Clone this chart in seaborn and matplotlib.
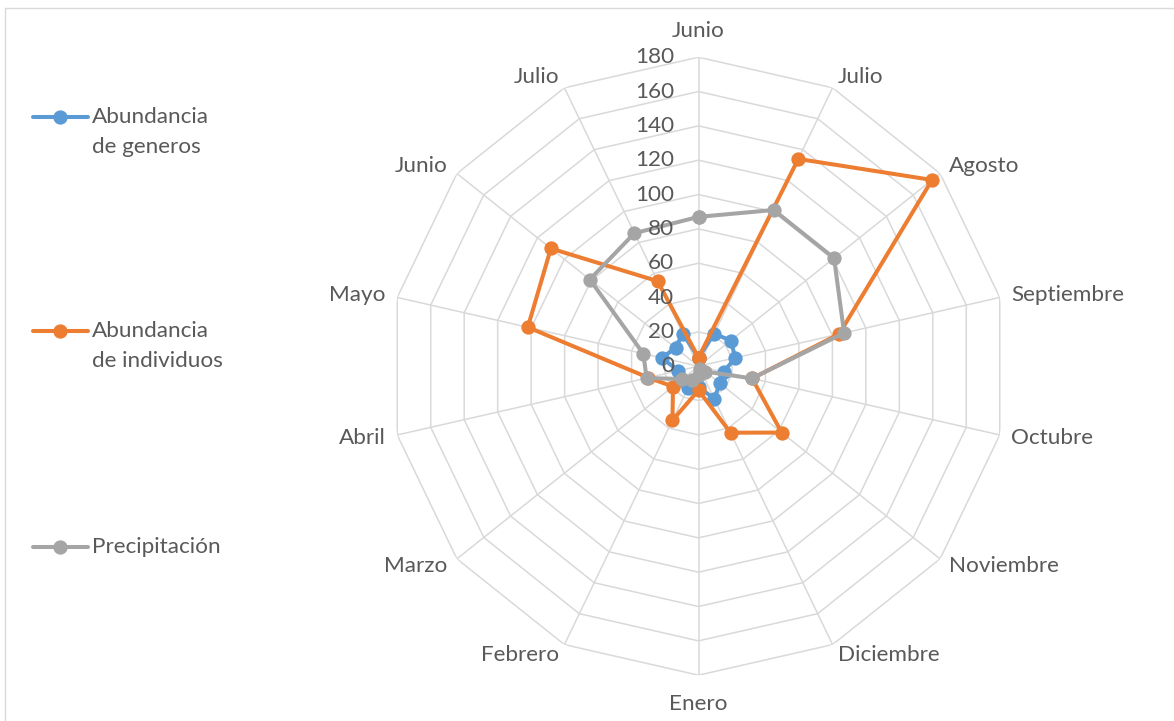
import numpy as np
import pandas as pd
import matplotlib
matplotlib.use("Agg")
import matplotlib.pyplot as plt
from matplotlib.lines import Line2D
from matplotlib.patches import Rectangle
import seaborn as sns

# ---------------- data ----------------
categories = ["Junio", "Julio", "Agosto", "Septiembre", "Octubre", "Noviembre",
              "Diciembre", "Enero", "Febrero", "Marzo", "Abril", "Mayo",
              "Junio", "Julio"]
abundancia_generos = [5, 21, 24, 22, 15, 16, 21, 12, 14, 13, 12, 22, 17, 21]
abundancia_individuos = [5, 134, 174, 84, 32, 62, 43, 14, 35, 19, 30, 102, 110, 55]
precipitacion = [87, 101, 101, 87, 32, 5, 2, 5, 9, 12, 31, 33, 81, 86]
series_names = ["Abundancia\nde generos", "Abundancia\nde individuos", "Precipitación"]
radial_ticks = [0, 20, 40, 60, 80, 100, 120, 140, 160, 180]

colors = ["#5B9BD5", "#ED7D31", "#A5A5A5"]
grid_color = "#D9D9D9"
text_color = "#595959"

sns.set_style("white")
plt.rcParams["font.family"] = ["Lato", "DejaVu Sans"]

W, H = 1174, 721
fig = plt.figure(figsize=(W / 100, H / 100), dpi=100)

# chart border
fig.add_artist(Rectangle((5 / W, -0.1), 1.2, (H - 8) / H + 0.1,
                         transform=fig.transFigure, fill=False,
                         edgecolor=grid_color, lw=1.0))

cx, cy, R = 698.5, 366.2, 309.0
ax = fig.add_axes([(cx - R) / W, (H - cy - R) / H, 2 * R / W, 2 * R / H],
                  projection="polar")
ax.set_theta_offset(np.pi / 2)
ax.set_theta_direction(-1)
ax.grid(False)
ax.spines["polar"].set_visible(False)
ax.set_xticks([])
ax.set_yticks([])
ax.patch.set_alpha(0)

n = len(categories)
theta = np.arange(n) * 2 * np.pi / n
theta_closed = np.append(theta, 2 * np.pi)

# polygon grid
for v in radial_ticks[1:]:
    ax.plot(theta_closed, [v] * (n + 1), color=grid_color, lw=1.1, zorder=0)
for t in theta:
    ax.plot([t, t], [0, radial_ticks[-1]], color=grid_color, lw=1.1, zorder=0)

# data
rows = []
for name, vals in zip(series_names,
                      [abundancia_generos, abundancia_individuos, precipitacion]):
    closed = list(vals) + [vals[0]]
    for t, v in zip(theta_closed, closed):
        rows.append({"theta": t, "value": v, "serie": name})
df = pd.DataFrame(rows)

lw, ms = 2.9, 10.3
sns.lineplot(data=df, x="theta", y="value", hue="serie", hue_order=series_names,
             palette=colors, marker="o", markersize=ms, markeredgewidth=0,
             linewidth=lw, sort=False, estimator=None, legend=False, ax=ax)
ax.set_xlabel("")
ax.set_ylabel("")
ax.set_ylim(0, radial_ticks[-1])
ax.set_xticks([])
ax.set_yticks([])

fs = 16.2
# radial tick labels
for v in radial_ticks:
    ax.annotate(str(v), xy=(0, v), xytext=(-17.5, 0), textcoords="offset points",
                ha="right", va="center", fontsize=fs, color=text_color,
                annotation_clip=False)

# category labels
gap = 8.6
for t, lab in zip(theta, categories):
    s, c = np.sin(t), np.cos(t)
    if abs(s) < 0.05:
        ha = "center"
        va = "bottom" if c > 0 else "top"
        off = (0, 11.5 if c > 0 else -13.5)
    else:
        ha = "left" if s > 0 else "right"
        va = "center"
        off = (gap * s, gap * c)
    ax.annotate(lab, xy=(t, radial_ticks[-1]), xytext=off, textcoords="offset points",
                ha=ha, va=va, fontsize=fs, color=text_color, annotation_clip=False)

# legend (manual, Excel-like spacing)
leg_y = [117, 331, 547]
for name, col, y in zip(series_names, colors, leg_y):
    yf = (H - y) / H
    fig.add_artist(Line2D([33 / W, 88 / W], [yf, yf], color=col, lw=lw,
                          solid_capstyle="round", transform=fig.transFigure))
    fig.add_artist(Line2D([60 / W], [yf], color=col, marker="o", markersize=ms,
                          markeredgewidth=0, transform=fig.transFigure))
    for i, line in enumerate(name.split("\n")):
        fig.text(92 / W, (H - y - 30 * i) / H, line, ha="left", va="center",
                 fontsize=fs, color=text_color)

fig.savefig("out.png", dpi=100)
